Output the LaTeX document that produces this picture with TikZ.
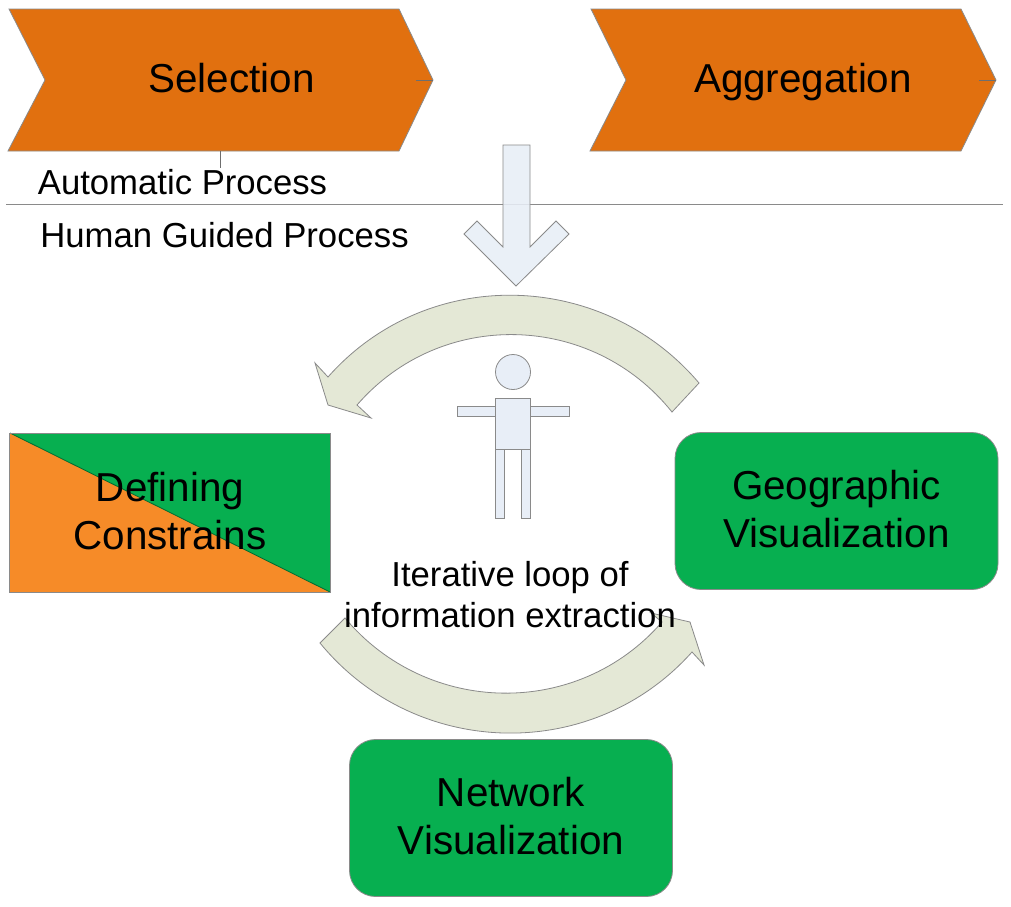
\documentclass[tikz,border=0pt]{standalone}
\usepackage{fontspec}
\setmainfont{Liberation Sans}
\definecolor{chev}{HTML}{E1700F}
\definecolor{boxgreen}{HTML}{07AF50}
\definecolor{triorange}{HTML}{F68B28}
\definecolor{arcfill}{HTML}{E4E8D6}
\definecolor{bluefill}{HTML}{E8EEF7}
\definecolor{edge}{HTML}{8A8A8A}
\tikzset{
  chevshape/.style={fill=chev,draw=edge,line width=0.8pt,line join=miter},
  tickline/.style={draw=edge!80!black,line width=0.8pt},
  greenbox/.style={fill=boxgreen,draw=edge,line width=0.8pt,rounded corners=26pt,minimum width=323pt,minimum height=157pt,inner sep=0pt},
  looparc/.style={fill=arcfill,draw=edge,line width=0.8pt,line join=miter},
  bluepart/.style={fill=bluefill,draw=edge,line width=0.8pt},
  txtb/.style={font=\fontsize{40.4}{48}\selectfont,align=center,text=black,inner sep=0pt},
  txts/.style={font=\fontsize{34.7}{41}\selectfont,align=center,text=black,inner sep=0pt}
}
\begin{document}
\begin{tikzpicture}[x=1pt,y=-1pt]
\useasboundingbox[fill=white] (0,0) rectangle (1011,906);
% divider
\coordinate (divL) at (6,204);
\coordinate (divR) at (1003,204);
\draw[draw=edge,line width=0.8pt] (divL) -- (divR);
% chevrons
\draw[chevshape] (8,151) -- (45,80) -- (9,9) -- (399,9) -- (433,80) -- (399,151) -- cycle;
\draw[chevshape] (590,151) -- (626,80) -- (591,9) -- (961,9) -- (996,80) -- (961,151) -- cycle;
\draw[tickline] (416,80) -- (433,80);
\draw[tickline] (979,80) -- (996,80);
\draw[tickline] (220,151) -- (220,168);
\node[txtb,anchor=base] (sel) at (231.5,92) {Selection};
\node[txtb,anchor=base] (agg) at (803,92) {Aggregation};
\node[txts] (auto) at (182.5,182.5) {Automatic Process};
\node[txts] (human) at (224.5,235.5) {Human Guided Process};
% down arrow
\draw[bluepart,fill opacity=0.88] (503,145) -- (530,145) -- (530,247) -- (556,221) -- (569,234) -- (516,286) -- (464,234) -- (477,221) -- (503,247) -- cycle;
% upper loop arrow
\draw[looparc] (699,383) .. controls (602,269) and (427,265) .. (328,377) -- (315,363) -- (328,405) -- (371,418) -- (357,405) .. controls (441,308) and (592,312) .. (672,412) -- cycle;
% lower loop arrow
\draw[looparc] (320,643) .. controls (415,759) and (592,764) .. (692,652) -- (704,665) -- (690,622) -- (651,613) -- (662,622) .. controls (578,719) and (427,716) .. (345,618) -- cycle;
% person
\draw[bluepart] (457,406) rectangle (495,416);
\draw[bluepart] (530,406) rectangle (569,416);
\draw[bluepart] (495,449) rectangle (504,518);
\draw[bluepart] (521,449) rectangle (530,518);
\draw[bluepart] (495,398) rectangle (530,449);
\draw[bluepart] (513,372) circle (17.5);
% defining constraints
\fill[triorange] (10,433) -- (330,592) -- (10,592) -- cycle;
\fill[boxgreen] (10,433) -- (330,433) -- (330,592) -- cycle;
\draw[draw=boxgreen!60!black,line width=0.8pt] (10,433) -- (330,592);
\draw[draw=edge,line width=1pt] (9.5,433) rectangle (330.5,592);
\node[txtb] (def) at (170,511.5) {Defining\\Constrains};
% green boxes
\node[greenbox] (geo) at (836.5,511) {};
\node[greenbox] (net) at (511,818) {};
\node[txtb] (geotxt) at (836.5,509) {Geographic\\Visualization};
\node[txtb] (nettxt) at (511,816.5) {Network\\Visualization};
% caption
\node[txts] (iter) at (510,595) {Iterative loop of\\information extraction};
\end{tikzpicture}
\end{document}
